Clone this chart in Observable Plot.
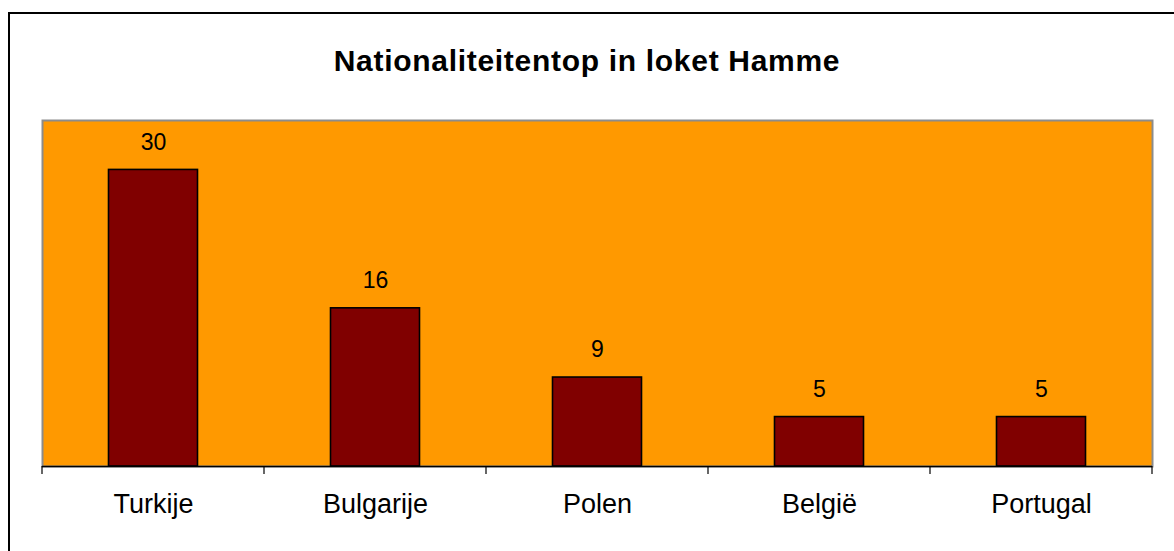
<!DOCTYPE html>
<html>
<head>
<meta charset="utf-8">
<script src="https://cdn.jsdelivr.net/npm/d3@7"></script>
<script src="https://cdn.jsdelivr.net/npm/@observablehq/plot@0.6"></script>
<style>
  html, body { margin: 0; padding: 0; background: #fff; }
  #wrap { position: relative; width: 1174px; height: 551px; overflow: hidden; font-family: "Liberation Sans", Arial, sans-serif; }
  #frame { position: absolute; left: 8px; top: 12px; width: 1300px; height: 700px; border: 2px solid #000; box-sizing: border-box; }
  #title { position: absolute; left: 0; top: 46px; width: 1174px; text-align: center; font-size: 30px; line-height: 30px; font-weight: bold; letter-spacing: 0.7px; color: #000; }
  #chart { position: absolute; left: 0; top: 0; }
</style>
</head>
<body>
<div id="wrap">
  <div id="frame"></div>
  <div id="chart"></div>
  <div id="title">Nationaliteitentop in loket Hamme</div>
</div>
<script>
const categories = ["Turkije", "Bulgarije", "Polen", "België", "Portugal"];
const counts = [30, 16, 9, 5, 5];
const yDomain = [0, 35];

const data = categories.map((c, i) => ({country: c, count: counts[i]}));

const boundaryTicks = (index, scales, values, dimensions) => {
  const g = d3.create("svg:g");
  const xs = categories.map(c => scales.x(c));
  xs.push(dimensions.width - dimensions.marginRight);
  const y0 = dimensions.height - dimensions.marginBottom;
  for (const x of xs) {
    g.append("line")
      .attr("x1", x).attr("x2", x)
      .attr("y1", y0).attr("y2", y0 + 8)
      .attr("stroke", "#000").attr("stroke-width", 1.2);
  }
  return g.node();
};

const chart = Plot.plot({
  width: 1174,
  height: 551,
  marginLeft: 42,
  marginRight: 22,
  marginTop: 120,
  marginBottom: 85,
  style: {fontFamily: "'Liberation Sans', Arial, sans-serif", color: "#000", background: "transparent", overflow: "visible"},
  x: {domain: categories, padding: 0, label: null},
  y: {domain: yDomain, axis: null},
  marks: [
    Plot.frame({fill: "#FF9900"}),
    Plot.frame({stroke: "#8c8c8c", strokeWidth: 2}),
    Plot.barY(data, {x: "country", y: "count", fill: "#800000", stroke: "#000", strokeWidth: 1.6, insetLeft: 66.5, insetRight: 66.5}),
    Plot.ruleY([0], {stroke: "#000", strokeWidth: 1.3}),
    boundaryTicks,
    Plot.text(data, {x: "country", y: "count", text: d => String(d.count), dy: -27.5, lineAnchor: "middle", fontSize: 23, fill: "#000"}),
    Plot.axisX({tickSize: 0, tickPadding: 27, fontSize: 27, label: null})
  ]
});
document.getElementById("chart").appendChild(chart);
</script>
</body>
</html>
